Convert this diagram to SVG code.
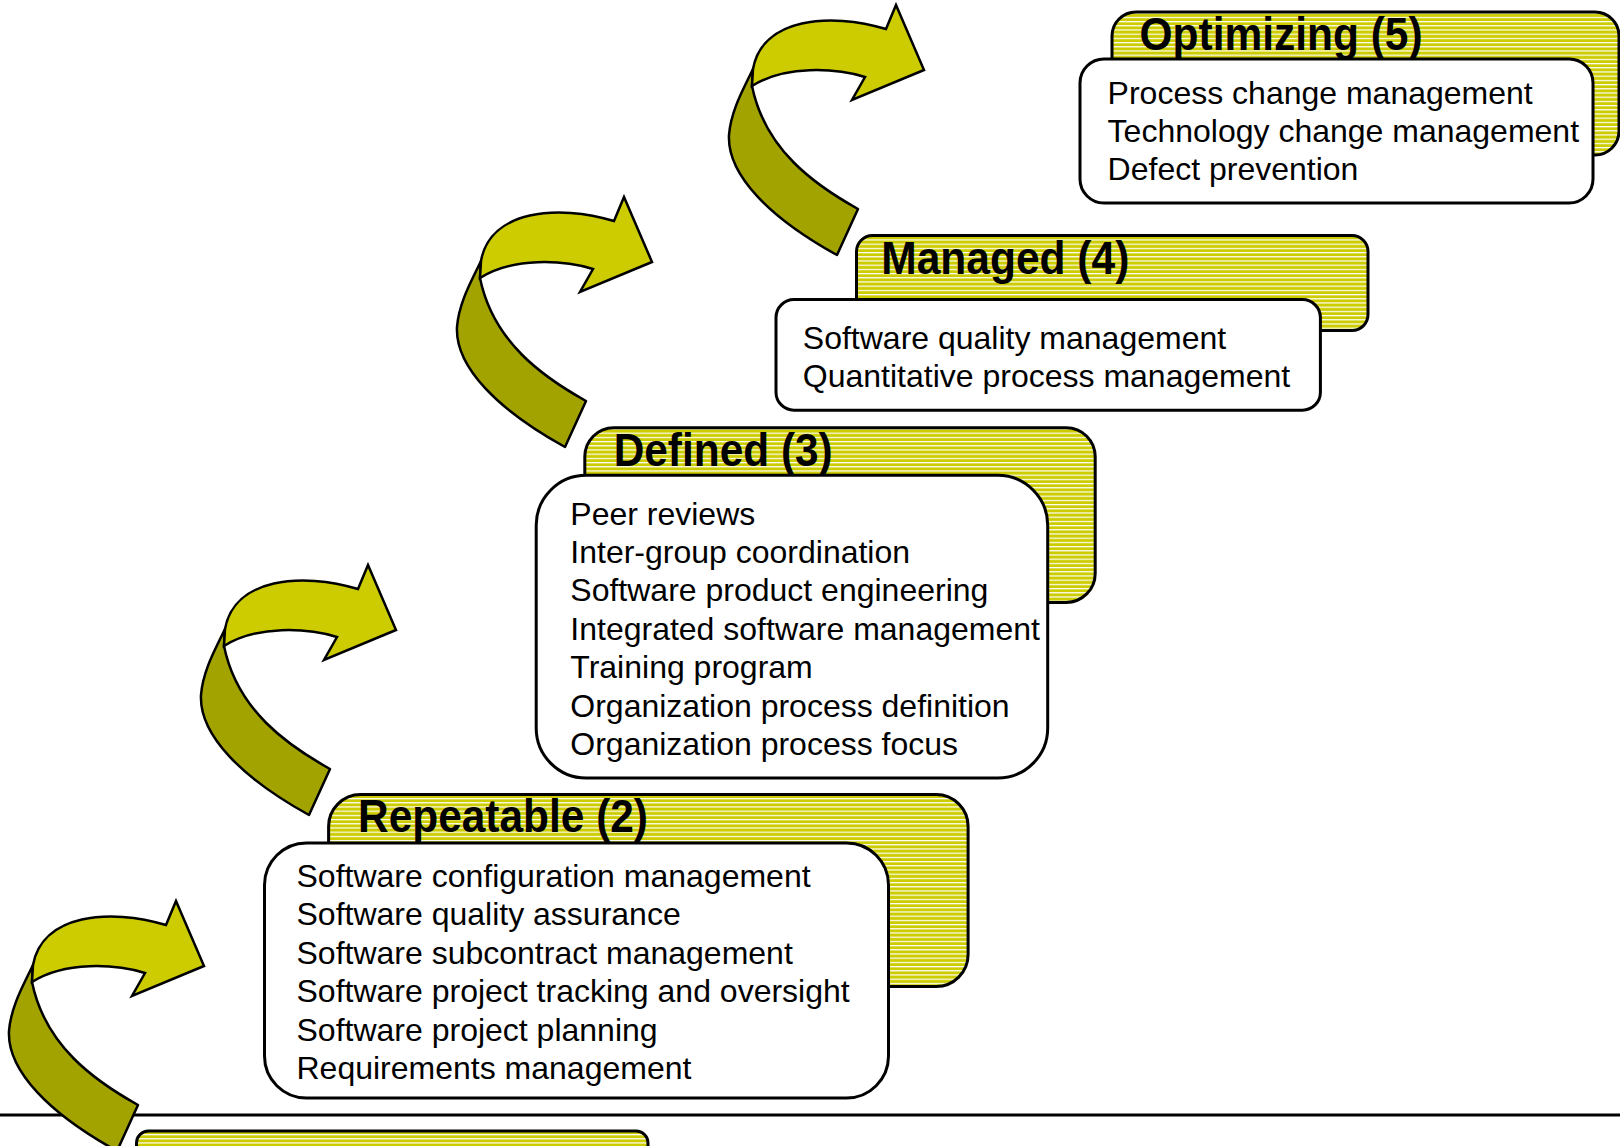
<svg xmlns="http://www.w3.org/2000/svg" width="1620" height="1146" viewBox="0 0 1620 1146">
<defs>
<pattern id="stripes" patternUnits="userSpaceOnUse" width="16" height="4.2">
<rect width="16" height="4.2" fill="#CCCC00"/>
<rect y="0" width="16" height="1.2" fill="#FFFFFF"/>
</pattern>
<g id="arrowShape">
<path class="dark" d="M33,69 C24,88 11,110 9,135 C7,175 50,218 117,255 L138,209 C95,185 45,150 32,86 Z"/>
<path class="light" d="M33,69 C42,18 110,12 166,29 L176,5 L204,70 L132,100 L145,77 C115,68 65,65 32,86 Z"/>
</g>
</defs>
<style>
.ybox{fill:url(#stripes);stroke:#000;stroke-width:3}
.wbox{fill:#FFFFFF;stroke:#000;stroke-width:3}
.title{font-family:"Liberation Sans",Arial,sans-serif;font-weight:bold;font-size:47px;fill:#000}
.body{font-family:"Liberation Sans",Arial,sans-serif;font-size:32px;fill:#000}
.dark{fill:#A3A300;stroke:#000;stroke-width:2.5;stroke-linejoin:round}
.light{fill:#CCCC00;stroke:#000;stroke-width:2.5;stroke-linejoin:miter}
</style>
<rect width="1620" height="1146" fill="#FFFFFF"/>

<g id="baseline">
<line x1="0" y1="1115" x2="1620" y2="1115" stroke="#000" stroke-width="3"/>
</g>

<g id="initial">
<rect class="ybox" x="136.5" y="1131" width="511.5" height="60" rx="12"/>
</g>

<g id="repeatable">
<rect class="ybox" x="328.6" y="794.5" width="639.5" height="192" rx="32"/>
<text class="title" x="358" y="832" textLength="290" lengthAdjust="spacingAndGlyphs">Repeatable (2)</text>
<rect class="wbox" x="264.5" y="843" width="624" height="255" rx="42"/>
<text class="body" x="296.5" y="887">Software configuration management</text>
<text class="body" x="296.5" y="925.4">Software quality assurance</text>
<text class="body" x="296.5" y="963.8">Software subcontract management</text>
<text class="body" x="296.5" y="1002.2">Software project tracking and oversight</text>
<text class="body" x="296.5" y="1040.6">Software project planning</text>
<text class="body" x="296.5" y="1079">Requirements management</text>
</g>

<g id="defined">
<rect class="ybox" x="584.8" y="427.7" width="510.4" height="174.7" rx="29"/>
<text class="title" x="613.7" y="466" textLength="219" lengthAdjust="spacingAndGlyphs">Defined (3)</text>
<rect class="wbox" x="536.2" y="475.3" width="511.5" height="302.7" rx="50"/>
<text class="body" x="570.3" y="524.5">Peer reviews</text>
<text class="body" x="570.3" y="562.9">Inter-group coordination</text>
<text class="body" x="570.3" y="601.3">Software product engineering</text>
<text class="body" x="570.3" y="639.7">Integrated software management</text>
<text class="body" x="570.3" y="678.1">Training program</text>
<text class="body" x="570.3" y="716.5">Organization process definition</text>
<text class="body" x="570.3" y="754.9">Organization process focus</text>
</g>

<g id="managed">
<rect class="ybox" x="856.5" y="235.6" width="511.5" height="95" rx="16"/>
<text class="title" x="881.3" y="274" textLength="248" lengthAdjust="spacingAndGlyphs">Managed (4)</text>
<rect class="wbox" x="776" y="299.6" width="544.4" height="110.6" rx="18"/>
<text class="body" x="802.8" y="349">Software quality management</text>
<text class="body" x="802.8" y="387.4">Quantitative process management</text>
</g>

<g id="optimizing">
<rect class="ybox" x="1112" y="12" width="507" height="143" rx="24"/>
<text class="title" x="1139.6" y="50" textLength="283" lengthAdjust="spacingAndGlyphs">Optimizing (5)</text>
<rect class="wbox" x="1080" y="59" width="513" height="144" rx="24"/>
<text class="body" x="1107.6" y="103.5">Process change management</text>
<text class="body" x="1107.6" y="141.9">Technology change management</text>
<text class="body" x="1107.6" y="180.3">Defect prevention</text>
</g>

<g id="connectors">
<use href="#arrowShape" transform="translate(0,896)"/>
<use href="#arrowShape" transform="translate(192,560)"/>
<use href="#arrowShape" transform="translate(448,192)"/>
<use href="#arrowShape" transform="translate(720,0)"/>
</g>
</svg>
